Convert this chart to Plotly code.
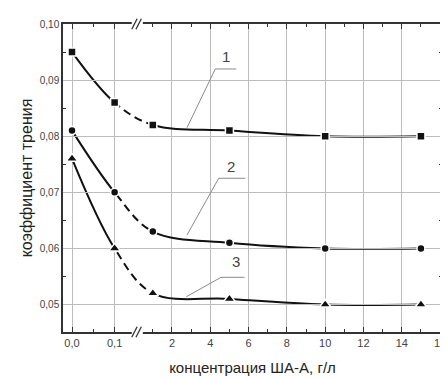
import plotly.graph_objects as go

# ---- data ----
x_left = [0.0, 0.1]              # left (expanded) part of the broken axis
x_right = [1, 5, 10, 15]          # right part of the broken axis
y_series1 = [0.095, 0.086, 0.082, 0.081, 0.080, 0.080]
y_series2 = [0.081, 0.070, 0.063, 0.061, 0.060, 0.060]
y_series3 = [0.076, 0.060, 0.052, 0.051, 0.050, 0.050]
series_labels = ["1", "2", "3"]
x_tick_left = [0.0, 0.1]
x_tick_left_text = ["0,0", "0,1"]
x_tick_right = [2, 4, 6, 8, 10, 12, 14, 16]
y_ticks = [0.05, 0.06, 0.07, 0.08, 0.09, 0.10]
y_tick_text = ["0,05", "0,06", "0,07", "0,08", "0,09", "0,10"]

# ---- broken-axis scale ----
LEFT_SCALE = 22.25
RIGHT_OFFSET = 3.22
U0, U1 = -0.47, 19.32


def u_left(v):
    return v * LEFT_SCALE


def u_right(v):
    return v + RIGHT_OFFSET


def frac(u):
    return (u - U0) / (U1 - U0)


xs = [u_left(v) for v in x_left] + [u_right(v) for v in x_right]

# clipping windows (same scale as main axis) for solid / dashed parts of each curve
segments = [
    ("x2", U0, u_left(x_left[-1]), "solid"),
    ("x3", u_left(x_left[-1]), u_right(x_right[0]), "8px,5px"),
    ("x4", u_right(x_right[0]), U1, "solid"),
]

fig = go.Figure()
symbols = ["square", "circle", "triangle-up"]
sizes = [8, 8, 10]
all_series = [y_series1, y_series2, y_series3]
for ax, a, b, dash in segments:
    for ys in all_series:
        fig.add_trace(go.Scatter(x=xs, y=ys, mode="lines", xaxis=ax, yaxis="y",
                                 line=dict(color="#111111", width=2, shape="spline", dash=dash),
                                 showlegend=False, hoverinfo="skip"))
for ys, sym, sz in zip(all_series, symbols, sizes):
    fig.add_trace(go.Scatter(x=xs, y=ys, mode="markers", xaxis="x5", yaxis="y",
                             marker=dict(symbol=sym, size=sz, color="#111111",
                                         line=dict(color="white", width=1.5)),
                             showlegend=False))

# ---- labels with leader lines (positions in right-segment units) ----
label_pos = [(4.82, 0.09417), (5.08, 0.07456), (5.36, 0.05763)]
leader_h = [(4.26, 5.36, 0.09198), (4.44, 5.83, 0.07250), (4.56, 5.79, 0.05485)]
leader_end = [(2.785, 0.08152), (2.785, 0.06239), (2.75, 0.05139)]
for lab, (lx, ly), (hx0, hx1, hy), (ex, ey) in zip(series_labels, label_pos, leader_h, leader_end):
    fig.add_annotation(x=u_right(lx), y=ly, xref="x", yref="y", text=lab, showarrow=False,
                       font=dict(size=15, color="#444444"))
    fig.add_shape(type="line", xref="x", yref="y", x0=u_right(hx0), x1=u_right(hx1),
                  y0=hy, y1=hy, line=dict(color="#8a8a8a", width=1))
    fig.add_shape(type="line", xref="x", yref="y", x0=u_right(hx0), x1=u_right(ex),
                  y0=hy, y1=ey, line=dict(color="#8a8a8a", width=1))

# ---- axis break marks ----
for yb in (0, 1):
    fig.add_shape(type="rect", xref="x", yref="paper", x0=3.12, x1=3.70,
                  y0=yb - 0.01, y1=yb + 0.01, fillcolor="white", line=dict(width=0),
                  layer="above")
    for dx in (0.0, 0.22):
        fig.add_shape(type="line", xref="x", yref="paper",
                      x0=3.12 + dx, x1=3.40 + dx, y0=yb - 0.017, y1=yb + 0.017,
                      line=dict(color="#333333", width=1.3), layer="above")

font = "Liberation Sans, Arial, sans-serif"
hidden = dict(visible=False, anchor="y", showgrid=False, zeroline=False)
# page body has an 8px margin, so the figure is 8px smaller and margins shifted
fig.update_layout(
    width=440, height=371,
    margin=dict(l=55, r=6, t=16, b=47),
    plot_bgcolor="rgba(0,0,0,0)", paper_bgcolor="white",
    font=dict(family=font, color="#333333"),
    xaxis2=dict(hidden, domain=[frac(segments[0][1]), frac(segments[0][2])],
                range=[segments[0][1], segments[0][2]]),
    xaxis3=dict(hidden, domain=[frac(segments[1][1]), frac(segments[1][2])],
                range=[segments[1][1], segments[1][2]]),
    xaxis4=dict(hidden, domain=[frac(segments[2][1]), frac(segments[2][2])],
                range=[segments[2][1], segments[2][2]]),
    xaxis5=dict(hidden, domain=[0, 1], range=[U0, U1]),
)
fig.update_layout(xaxis=dict(
    domain=[0, 1], anchor="y",
    range=[U0, U1],
    tickvals=[u_left(v) for v in x_tick_left] + [u_right(v) for v in x_tick_right],
    ticktext=x_tick_left_text + [str(v) for v in x_tick_right],
    ticks="inside", ticklen=5, tickcolor="#333333",
    minor=dict(tickvals=[u_left(0.05)] + [u_right(v) for v in range(1, 16, 2)],
               ticks="inside", ticklen=3, tickcolor="#333333", showgrid=False),
    showgrid=True, gridcolor="#bcbcbc", gridwidth=1,
    showline=True, linecolor="#333333", linewidth=1.5, mirror="ticks",
    zeroline=False, automargin=False,
    tickfont=dict(size=11, color="#444444"),
    title=dict(text="концентрация ША-А, г/л", font=dict(size=15, color="#222222"), standoff=15),
))
fig.update_layout(yaxis=dict(
    range=[0.0451, 0.1],
    tickvals=y_ticks, ticktext=y_tick_text,
    ticks="inside", ticklen=5, tickcolor="#333333",
    minor=dict(dtick=0.005, tick0=0.05, ticks="inside", ticklen=3, tickcolor="#333333",
               showgrid=False),
    showgrid=True, gridcolor="#bcbcbc", gridwidth=1,
    showline=True, linecolor="#333333", linewidth=1.5, mirror="ticks",
    zeroline=False, automargin=False,
    tickfont=dict(size=10, color="#444444"),
    title=dict(text="коэффициент трения", font=dict(size=16, color="#222222"), standoff=3),
))

fig.write_html("out.html")
